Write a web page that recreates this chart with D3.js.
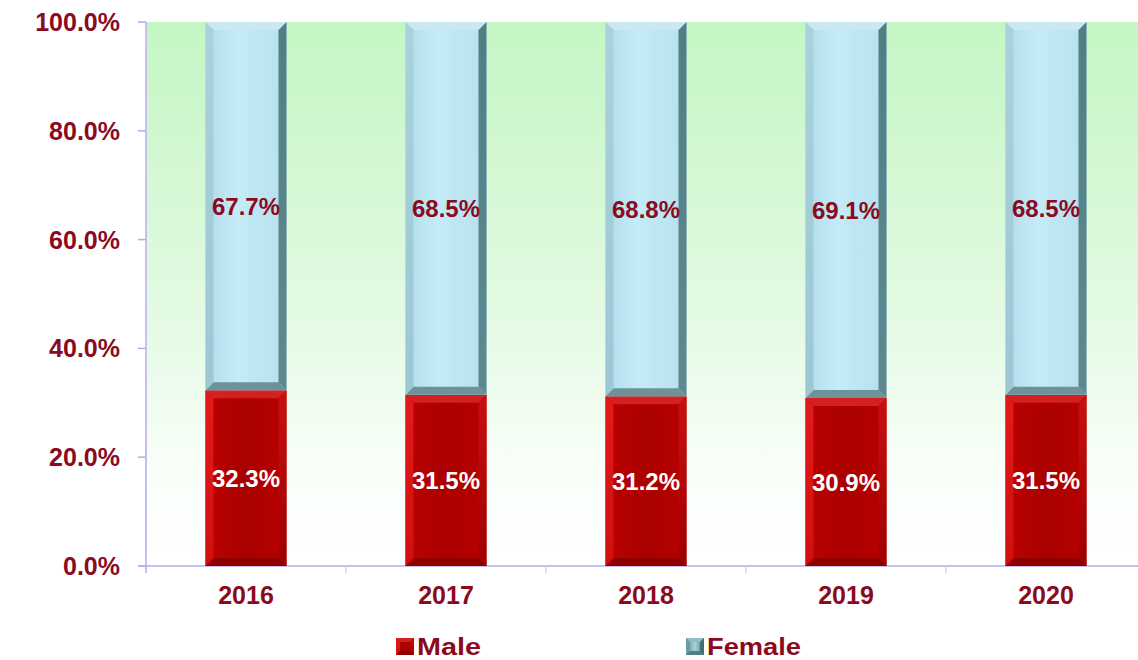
<!DOCTYPE html>
<html><head><meta charset="utf-8">
<script src="https://cdn.jsdelivr.net/npm/d3@7"></script>
<style>html,body{margin:0;padding:0;background:#fff;}svg{display:block;}</style>
</head><body>
<svg id="c" width="1138" height="660"></svg>
<script>
const years = ["2016","2017","2018","2019","2020"];
const male = [32.3, 31.5, 31.2, 30.9, 31.5];
const female = [67.7, 68.5, 68.8, 69.1, 68.5];
const yTicks = [0, 20, 40, 60, 80, 100];
const seriesNames = ["Male", "Female"];

(function(){
const svg = d3.select("#c");
const W = 1138, H = 660;
const pLeft = 146, pRight = 1146, pTop = 22, pBottom = 566;
const txt = "#8b0a1e";
const axisCol = "#b4aaf0";
const font = "'Liberation Sans', Arial, sans-serif";

const x = d3.scaleBand().domain(years).range([pLeft, pRight]).paddingInner(0).paddingOuter(0);
const y = d3.scaleLinear().domain([0, 100]).range([pBottom, pTop]);

const defs = svg.append("defs");
const bg = defs.append("linearGradient").attr("id","bg").attr("x1",0).attr("y1",0).attr("x2",0).attr("y2",1);
bg.append("stop").attr("offset","0%").attr("stop-color","#c4f6c4");
bg.append("stop").attr("offset","55%").attr("stop-color","#e4fae4");
bg.append("stop").attr("offset","85%").attr("stop-color","#fbfffb");
bg.append("stop").attr("offset","100%").attr("stop-color","#ffffff");

function hgrad(id, stops){
  const g = defs.append("linearGradient").attr("id",id).attr("x1",0).attr("y1",0).attr("x2",1).attr("y2",0);
  stops.forEach(s=>g.append("stop").attr("offset",s[0]).attr("stop-color",s[1]));
}
function vgrad(id, stops){
  const g = defs.append("linearGradient").attr("id",id).attr("x1",0).attr("y1",0).attr("x2",0).attr("y2",1);
  stops.forEach(s=>g.append("stop").attr("offset",s[0]).attr("stop-color",s[1]));
}
hgrad("fFace", [["0%","#b2dceb"],["40%","#c4ebf7"],["100%","#b6dfec"]]);
hgrad("mFace", [["0%","#bc0000"],["50%","#aa0000"],["100%","#b80000"]]);
vgrad("fLeft", [["0%","#a8d2de"],["100%","#9cc7d4"]]);
vgrad("fRight", [["0%","#4f7f85"],["100%","#5d8a90"]]);
vgrad("mLeft", [["0%","#e21a1a"],["100%","#d01010"]]);
vgrad("mRight", [["0%","#c81010"],["100%","#a00000"]]);
hgrad("fLeg", [["0%","#5c8f92"],["50%","#a6d6da"],["100%","#4e7f84"]]);

const pal = {
  Male: {face:"url(#mFace)", top:"#d42020", left:"url(#mLeft)", right:"url(#mRight)", bottom:"#8e0000"},
  Female: {face:"url(#fFace)", top:"#cbe8f0", left:"url(#fLeft)", right:"url(#fRight)", bottom:"#6f9298"}
};
const legPal = {
  Male: pal.Male,
  Female: {face:"url(#fLeg)", top:"#8fbfc3", left:"#6a9ea2", right:"#406e72", bottom:"#4f7f84"}
};

svg.append("rect").attr("x", pLeft+1).attr("y", pTop).attr("width", W-pLeft-1).attr("height", pBottom-pTop).attr("fill","url(#bg)");

svg.append("line").attr("x1", pLeft).attr("x2", pLeft).attr("y1", pTop).attr("y2", pBottom+7).attr("stroke", axisCol).attr("stroke-width",1.5);
svg.append("line").attr("x1", pLeft-8).attr("x2", W).attr("y1", pBottom).attr("y2", pBottom).attr("stroke", axisCol).attr("stroke-width",1.5);
yTicks.forEach(t=>{
  svg.append("line").attr("x1", pLeft-8).attr("x2", pLeft).attr("y1", y(t)).attr("y2", y(t)).attr("stroke", axisCol).attr("stroke-width",1.5);
  svg.append("text").attr("x", pLeft-26).attr("y", y(t)).attr("dy","0.36em").attr("text-anchor","end")
    .attr("font-family", font).attr("font-weight","bold").attr("font-size", 25).attr("fill", txt)
    .text(t.toFixed(1) + "%");
});
years.forEach((yr,i)=>{
  svg.append("line").attr("x1", x(yr)+x.bandwidth()).attr("x2", x(yr)+x.bandwidth()).attr("y1", pBottom).attr("y2", pBottom+7).attr("stroke", "#d6d6e2").attr("stroke-width",1.5);
  svg.append("text").attr("x", x(yr)+x.bandwidth()/2).attr("y", 604).attr("text-anchor","middle")
    .attr("font-family", font).attr("font-weight","bold").attr("font-size", 25).attr("fill", txt).text(yr);
});

function bevelBar(g, x0, y0, x1, y1, p, b){
  g.append("rect").attr("x",x0).attr("y",y0).attr("width",x1-x0).attr("height",y1-y0).attr("fill",p.face);
  const poly = (pts, fill)=>g.append("polygon").attr("points", pts.map(d=>d.join(",")).join(" ")).attr("fill", fill);
  poly([[x0,y0],[x1,y0],[x1-b,y0+b],[x0+b,y0+b]], p.top);
  poly([[x0,y1],[x1,y1],[x1-b,y1-b],[x0+b,y1-b]], p.bottom);
  poly([[x0,y0],[x0+b,y0+b],[x0+b,y1-b],[x0,y1]], p.left);
  poly([[x1,y0],[x1-b,y0+b],[x1-b,y1-b],[x1,y1]], p.right);
}

const bw = 81;
const bars = svg.append("g");
years.forEach((yr,i)=>{
  const cx = x(yr) + x.bandwidth()/2;
  const x0 = cx - bw/2, x1 = cx + bw/2;
  bevelBar(bars, x0, y(male[i]), x1, y(0), pal.Male, 8);
  bevelBar(bars, x0, y(male[i]+female[i]), x1, y(male[i]), pal.Female, 8);
  bars.append("text").attr("x", cx).attr("y", y(male[i]/2)).attr("dy","0.36em").attr("text-anchor","middle")
    .attr("font-family", font).attr("font-weight","bold").attr("font-size", 24).attr("fill","#ffffff")
    .text(male[i].toFixed(1)+"%");
  bars.append("text").attr("x", cx).attr("y", y(male[i]+female[i]/2)).attr("dy","0.36em").attr("text-anchor","middle")
    .attr("font-family", font).attr("font-weight","bold").attr("font-size", 24).attr("fill", txt)
    .text(female[i].toFixed(1)+"%");
});

const legX = [396, 686];
const legW = [64, 94];
seriesNames.forEach((s,i)=>{
  const g = svg.append("g");
  bevelBar(g, legX[i], 638, legX[i]+18, 655, legPal[s], 4);
  g.append("text").attr("x", legX[i]+21).attr("y", 655).attr("font-family", font).attr("font-weight","bold")
    .attr("font-size", 24).attr("fill", txt).attr("textLength", legW[i]).attr("lengthAdjust","spacingAndGlyphs").text(s);
});
})();
</script>
</body></html>
